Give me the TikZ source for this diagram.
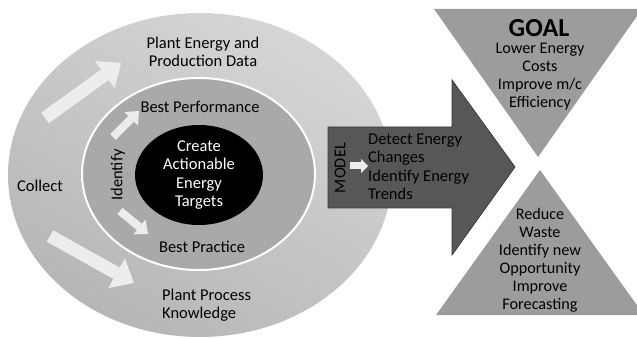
\documentclass[tikz,border=0pt]{standalone}
\usepackage{fontspec}
\setmainfont{Carlito}
\usetikzlibrary{arrows.meta}
\definecolor{outerA}{HTML}{D6D6D6}
\definecolor{outerB}{HTML}{B6B6B6}
\definecolor{innerring}{HTML}{A9A9A9}
\definecolor{darkarrow}{HTML}{575757}
\definecolor{darkedge}{HTML}{3C3C3C}
\definecolor{trifill}{HTML}{9C9C9C}
\definecolor{lightarr}{HTML}{EDEDED}
\begin{document}
\begin{tikzpicture}[x=1pt,y=-1pt,
  bigtext/.style={font=\fontsize{16.5}{18.5}\selectfont, text=black, inner sep=0pt},
  tritext/.style={font=\fontsize{16.2}{18}\selectfont, text=black, inner sep=0pt, align=center},
  lightarrow/.style={draw=lightarr, line width=#1},
  tri/.style={fill=trifill}
]
\useasboundingbox (0,0) rectangle (637,339);

% outer ring
\shade[top color=outerA, bottom color=outerB, shading angle=-30] (200,175) ellipse [x radius=192, y radius=162];
% inner ring
\fill[innerring] (198.5,174) ellipse [x radius=116.5, y radius=96];
\draw[white, line width=2pt] (198.5,174) ellipse [x radius=116.5, y radius=96];
% core
\fill[black] (199,175) ellipse [x radius=64, y radius=50];

% light arrows
\coordinate (u1s) at (45,118);
\coordinate (u1e) at (121,63);
\coordinate (d1s) at (50,236);
\coordinate (d1e) at (134,283);
\coordinate (u2s) at (113,137);
\coordinate (u2e) at (139,111);
\coordinate (d2s) at (120,211);
\coordinate (d2e) at (148,234);
\draw[lightarrow=13pt, -{Triangle[width=34pt,length=20pt,line width=0pt]}] (u1s) -- (u1e);
\draw[lightarrow=13pt, -{Triangle[width=34pt,length=20pt,line width=0pt]}] (d1s) -- (d1e);
\draw[lightarrow=8pt, -{Triangle[width=19pt,length=11pt,line width=0pt]}] (u2s) -- (u2e);
\draw[lightarrow=8pt, -{Triangle[width=19pt,length=11pt,line width=0pt]}] (d2s) -- (d2e);

% big dark arrow
\filldraw[fill=darkarrow, draw=darkedge, line width=0.8pt]
  (328,127) -- (452,127) -- (452,80) -- (515,167) -- (452,255) -- (452,208) -- (328,208) -- cycle;
\coordinate (ms) at (350,166);
\coordinate (me) at (368,166);
\draw[lightarrow=7pt, -{Triangle[width=14pt,length=7pt,line width=0pt]}] (ms) -- (me);

% triangles
\fill[tri] (434,9) -- (642,9) -- (538,157) -- cycle;
\fill[tri] (540,170) -- (436,315) -- (644,315) -- cycle;

% texts
\node[bigtext, align=center] (ped) at (203,52) {Plant Energy and\\Production Data};
\node[bigtext] (bp) at (200,107) {Best Performance};
\node[bigtext] (col) at (40,186) {Collect};
\node[bigtext, rotate=90] (idf) at (118,175) {Identify};
\node[bigtext, align=center, text=white] (core) at (199,175) {Create\\Actionable\\Energy\\Targets};
\node[bigtext] (bpr) at (202,247) {Best Practice};
\node[bigtext, align=left, anchor=west] (ppk) at (162,305) {Plant Process\\Knowledge};
\node[bigtext, rotate=90] (mdl) at (340,168) {MODEL};
\node[bigtext, align=left, anchor=west] (det) at (368,167) {Detect Energy\\Changes\\Identify Energy\\Trends};
\node[inner sep=0pt, font=\bfseries\fontsize{26}{28}\selectfont] (goal) at (539,28) {GOAL};
\node[tritext] (g1) at (540,76.5) {Lower Energy\\Costs\\Improve m/c\\Efficiency};
\node[tritext] (g2) at (540,260) {Reduce\\Waste\\Identify new\\Opportunity\\Improve\\Forecasting};
\end{tikzpicture}
\end{document}
